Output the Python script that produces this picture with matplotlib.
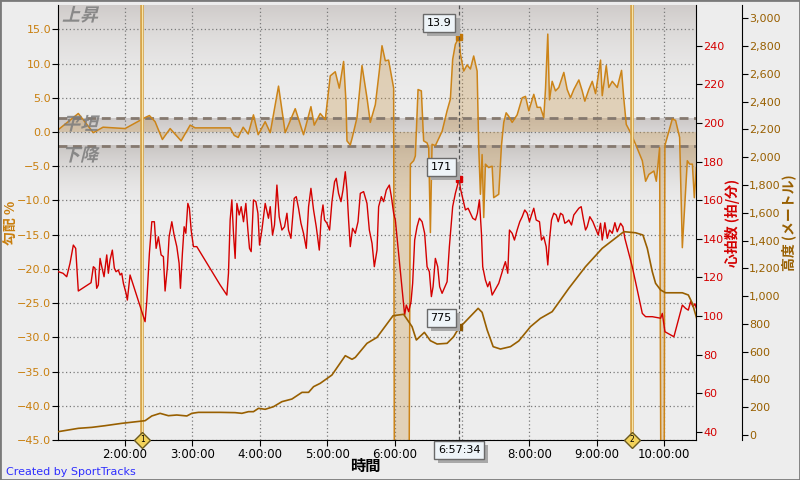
import matplotlib
matplotlib.use("Agg")
import matplotlib.pyplot as plt
import matplotlib.ticker as mticker
import matplotlib.transforms as mtransforms
import matplotlib.patheffects as pe
from matplotlib.colors import to_rgb
from matplotlib.textpath import TextPath
from matplotlib.patches import PathPatch, Rectangle
from matplotlib.font_manager import FontProperties
import numpy as np

plt.rcParams['font.family'] = ['DejaVu Sans', 'Noto Sans CJK JP']
JP = ['Noto Sans CJK JP', 'DejaVu Sans']

# ── Data (time in hours) ────────────────────────────────────────────────────────
grade_t = [1.004, 1.306, 1.529, 1.673, 2.000, 2.297, 2.361, 2.446, 2.554, 2.669,
           2.832, 2.966, 3.040, 3.560, 3.620, 3.679, 3.753, 3.828, 3.906, 3.976,
           4.080, 4.155, 4.278, 4.377, 4.526, 4.649, 4.759, 4.808, 4.897, 4.972,
           5.046, 5.120, 5.180, 5.244, 5.279, 5.294, 5.343, 5.373, 5.443, 5.517,
           5.591, 5.640, 5.715, 5.774, 5.814, 5.863, 5.912, 5.987, 5.999, 6.212,
           6.235, 6.284, 6.309, 6.349, 6.398, 6.432, 6.483, 6.507, 6.532, 6.557,
           6.606, 6.706, 6.780, 6.829, 6.863, 6.903, 6.959, 6.978, 7.027, 7.077,
           7.126, 7.175, 7.226, 7.250, 7.275, 7.300, 7.324, 7.349, 7.398, 7.449,
           7.472, 7.547, 7.587, 7.621, 7.657, 7.695, 7.746, 7.820, 7.895, 7.944,
           7.993, 8.067, 8.117, 8.166, 8.215, 8.241, 8.275, 8.300, 8.340, 8.389,
           8.438, 8.513, 8.563, 8.612, 8.661, 8.736, 8.786, 8.825, 8.884, 8.935,
           8.984, 9.058, 9.083, 9.143, 9.181, 9.232, 9.306, 9.370, 9.404, 9.440,
           9.504, 9.578, 9.678, 9.727, 9.776, 9.850, 9.886, 9.935, 9.957, 10.001,
           10.013, 10.073, 10.123, 10.172, 10.232, 10.272, 10.346, 10.380, 10.421, 10.450,
           10.480]
grade_v = [0.3, 2.7, -0.1, 0.7, 0.5, 2.1, 2.4, 1.5, -1.1, 0.5,
           -1.3, 1.0, 0.6, 0.6, -0.5, -0.8, 0.7, -0.3, 2.5, -0.4,
           1.5, -0.1, 6.7, -0.1, 3.4, -0.4, 3.7, 1.0, 2.7, 1.8,
           8.2, 8.8, 6.4, 10.3, 4.5, -1.3, -1.9, -0.8, 2.1, 9.7,
           5.0, 1.4, 4.0, 8.9, 12.6, 10.4, 10.5, 6.4, -60, -60,
           -4.7, -4.2, -3.5, 6.2, 6.0, -1.3, -1.6, -2.3, -14.7, -1.8,
           -2.0, 0.1, 3.1, 4.8, 10.6, 12.8, 13.9, 11.4, 8.9, 9.8,
           9.2, 11.1, 8.9, -2.3, -9.1, -3.3, -12.5, -4.7, -5.2, -5.0,
           -9.6, -9.1, -2.0, 1.4, 2.8, 2.3, 1.4, 2.5, 5.0, 5.2,
           3.1, 5.5, 3.6, 3.6, 2.1, 6.3, 14.3, 4.7, 7.4, 6.0,
           6.5, 8.7, 6.2, 5.0, 6.2, 7.6, 6.0, 4.5, 6.2, 7.4,
           5.6, 10.5, 5.3, 9.7, 6.5, 7.4, 6.5, 9.0, 4.8, 1.1,
           -0.1, -1.8, -4.2, -7.2, -6.2, -5.7, -7.2, -2.3, -60, -60,
           -2.0, 0.1, 1.9, 1.7, -0.8, -16.9, -4.2, -4.7, -4.7, -9.6,
           -5.2]

hr_t = [1.009, 1.079, 1.134, 1.183, 1.232, 1.267, 1.306, 1.495, 1.529, 1.554,
        1.579, 1.603, 1.629, 1.654, 1.688, 1.728, 1.752, 1.777, 1.811, 1.841,
        1.866, 1.900, 1.926, 1.951, 1.975, 2.015, 2.034, 2.074, 2.297, 2.322,
        2.361, 2.397, 2.435, 2.461, 2.495, 2.535, 2.569, 2.594, 2.629, 2.654,
        2.694, 2.728, 2.768, 2.802, 2.822, 2.851, 2.877, 2.902, 2.932, 2.955,
        2.981, 3.015, 3.065, 3.412, 3.511, 3.535, 3.560, 3.585, 3.609, 3.634,
        3.660, 3.694, 3.724, 3.758, 3.793, 3.823, 3.847, 3.872, 3.906, 3.942,
        3.972, 3.996, 4.031, 4.080, 4.129, 4.155, 4.189, 4.218, 4.254, 4.288,
        4.328, 4.367, 4.403, 4.426, 4.462, 4.511, 4.541, 4.575, 4.611, 4.649,
        4.690, 4.724, 4.759, 4.798, 4.838, 4.883, 4.912, 4.938, 4.961, 4.997,
        5.036, 5.071, 5.110, 5.135, 5.169, 5.205, 5.235, 5.269, 5.294, 5.318,
        5.343, 5.377, 5.418, 5.458, 5.492, 5.541, 5.591, 5.626, 5.666, 5.700,
        5.740, 5.764, 5.804, 5.838, 5.878, 5.923, 5.953, 5.987, 6.012, 6.150,
        6.175, 6.210, 6.245, 6.269, 6.299, 6.334, 6.369, 6.409, 6.447, 6.483,
        6.517, 6.547, 6.572, 6.606, 6.641, 6.670, 6.706, 6.780, 6.814, 6.863,
        6.903, 6.959, 6.978, 7.012, 7.052, 7.092, 7.126, 7.161, 7.201, 7.230,
        7.260, 7.290, 7.309, 7.349, 7.383, 7.413, 7.449, 7.547, 7.621, 7.646,
        7.681, 7.706, 7.746, 7.780, 7.820, 7.859, 7.895, 7.933, 7.969, 8.003,
        8.033, 8.067, 8.103, 8.152, 8.181, 8.215, 8.251, 8.275, 8.300, 8.330,
        8.364, 8.400, 8.430, 8.464, 8.498, 8.528, 8.563, 8.587, 8.627, 8.661,
        8.697, 8.736, 8.771, 8.801, 8.835, 8.860, 8.899, 8.944, 8.984, 9.024,
        9.058, 9.083, 9.122, 9.158, 9.192, 9.232, 9.271, 9.306, 9.355, 9.390,
        9.419, 9.529, 9.678, 9.727, 9.826, 9.950, 9.975, 10.014, 10.147, 10.272,
        10.321, 10.361, 10.395, 10.430, 10.459, 10.489]
hr_v = [122.9, 122.1, 120.3, 127.3, 136.7, 135.0, 112.9, 117.2, 125.5, 124.7,
        114.3, 116.0, 129.8, 125.5, 120.3, 131.6, 122.1, 129.0, 134.1, 124.7,
        122.9, 123.8, 121.2, 122.1, 116.9, 111.7, 108.2, 121.2, 97.0, 107.4,
        132.4, 148.8, 148.8, 135.0, 141.0, 131.6, 130.7, 112.9, 125.5, 141.0,
        148.8, 141.9, 135.9, 127.3, 114.3, 132.4, 146.2, 142.8, 158.3, 155.8,
        144.5, 135.9, 135.9, 116.0, 110.8, 122.1, 149.7, 160.1, 142.8, 129.8,
        158.3, 152.3, 156.6, 148.8, 158.3, 144.5, 135.0, 133.3, 160.1, 159.2,
        153.2, 136.7, 144.5, 158.3, 150.6, 156.6, 141.9, 147.1, 167.8, 151.4,
        144.5, 146.2, 153.2, 144.5, 140.2, 160.9, 161.8, 155.8, 148.0, 142.8,
        135.0, 156.6, 166.1, 154.9, 146.2, 134.1, 151.4, 157.5, 149.7, 148.0,
        144.5, 159.2, 169.5, 171.3, 163.5, 159.2, 165.2, 174.7, 165.2, 149.7,
        135.9, 145.4, 142.8, 148.8, 163.5, 164.4, 158.3, 144.5, 137.6, 125.5,
        134.1, 156.6, 161.8, 159.2, 165.2, 167.8, 161.8, 153.2, 149.7, 100.5,
        105.6, 102.2, 107.4, 116.9, 139.3, 146.2, 150.6, 148.8, 142.8, 125.5,
        122.9, 110.0, 115.1, 129.8, 125.5, 115.1, 111.7, 117.7, 135.9, 156.6,
        163.5, 171.0, 166.1, 160.9, 154.9, 155.8, 153.2, 150.6, 149.7, 153.2,
        160.1, 142.8, 125.5, 118.6, 115.1, 117.7, 110.8, 116.9, 125.5, 128.1,
        122.1, 144.5, 142.8, 139.3, 144.5, 148.8, 151.4, 154.9, 153.2, 148.8,
        152.3, 155.8, 149.7, 148.8, 139.3, 141.0, 135.9, 126.4, 139.3, 149.7,
        153.2, 152.3, 148.8, 153.2, 152.3, 148.0, 148.8, 149.7, 147.1, 152.3,
        154.0, 155.8, 156.6, 150.6, 144.5, 146.2, 151.4, 148.8, 145.4, 141.9,
        148.0, 139.3, 148.3, 140.2, 144.5, 142.8, 148.3, 143.6, 148.0, 146.2,
        140.2, 125.5, 101.3, 99.6, 99.6, 98.8, 101.3, 91.8, 89.2, 105.6,
        103.9, 103.0, 107.4, 104.8, 106.3, 103.0]

alt_t = [1.009, 1.157, 1.306, 1.505, 1.703, 1.951, 2.297, 2.397, 2.520, 2.643,
         2.768, 2.917, 2.991, 3.089, 3.412, 3.634, 3.734, 3.832, 3.906, 3.981,
         4.080, 4.204, 4.328, 4.477, 4.626, 4.724, 4.798, 4.897, 5.071, 5.269,
         5.369, 5.418, 5.591, 5.740, 5.978, 6.135, 6.260, 6.324, 6.443, 6.532,
         6.632, 6.780, 6.878, 6.959, 7.027, 7.241, 7.300, 7.375, 7.464, 7.572,
         7.721, 7.844, 8.018, 8.166, 8.340, 8.587, 8.835, 9.083, 9.404, 9.578,
         9.687, 9.752, 9.826, 9.875, 9.950, 10.024, 10.272, 10.361, 10.421, 10.485]
alt_v = [24, 36, 48, 55, 67, 84, 103, 137, 156, 139,
         144, 137, 156, 163, 163, 161, 156, 168, 168, 192,
         185, 204, 240, 259, 307, 307, 348, 372, 432, 571,
         545, 559, 660, 703, 859, 869, 780, 684, 739, 679,
         655, 660, 708, 775, 804, 912, 883, 756, 636, 619,
         636, 677, 780, 840, 888, 1056, 1212, 1344, 1464, 1456,
         1440, 1344, 1176, 1092, 1044, 1024, 1024, 1008, 948, 840]

lap_t = [2.257, 9.529]
lap_names = ["1", "2"]

cursor_t = 6 + 57 / 60 + 34 / 3600
cursor_label = "6:57:34"
cursor_grade = 13.9
cursor_hr = 171
cursor_alt = 775

band_labels = ["上昇", "平坦", "下降"]

# ── Colours ───────────────────────────────────────────────────────────────────
C_GRADE = "#CC8418"
C_GRADE_TXT = "#C97F0E"
C_HR = "#D40000"
C_ALT = "#985F00"
BG = "#EDEDED"

# ── Figure / axes ─────────────────────────────────────────────────────────────
fig = plt.figure(figsize=(8, 4.8), dpi=100)
fig.patch.set_facecolor(BG)
ax = fig.add_axes([58 / 800, 40 / 480, 638 / 800, 435 / 480])
ax.set_facecolor(BG)
ax_hr = ax.twinx()
ax_alt = ax.twinx()

T0, T1 = 1.0045, 10.475
ax.set_xlim(T0, T1)
ax.set_ylim(-45, 18.55)
ax_hr.set_ylim(35.7, 261.1)
ax_alt.set_ylim(-36, 3096)


def band(y0, y1, c_top, c_bot, power=1.0):
    f = np.linspace(0, 1, 128)[:, None] ** power
    top, bot = np.array(to_rgb(c_top)), np.array(to_rgb(c_bot))
    img = bot + (top - bot) * f
    ax.imshow(img[:, None, :], extent=(T0, T1, y0, y1), origin="lower",
              aspect="auto", interpolation="bilinear", zorder=0)


band(2, 18.55, "#CFCBC9", "#EDEDED", 2.2)
band(-2, 2, "#CCC8C7", "#E6E5E5", 1.0)
band(-12, -2, "#C9C5C3", "#EDEDED", 1.8)
ax.set_xlim(T0, T1)
ax.set_ylim(-45, 18.55)

# grid
ax.set_xticks(range(2, 11))
ax.set_yticks(range(-45, 16, 5))
ax.grid(True, color="#7A7A7A", ls=(0, (1, 2)), lw=0.9)
ax.set_axisbelow(True)

# grade fill + line
ax.fill_between(grade_t, grade_v, 0, color="#C8964B", alpha=0.32, lw=0, zorder=1)
ax.plot(grade_t, grade_v, color=C_GRADE, lw=1.1, zorder=2)

for lvl in (2, -2):
    ax.axhline(lvl, color="#85796F", lw=2, ls=(0, (3.2, 2)), zorder=1.5)

# lap lines
for t in lap_t:
    ax.axvline(t, color="#D6A245", lw=2.6, zorder=3)
    ax.axvline(t, color="#F7E4A6", lw=0.8, zorder=3.1)

# heart rate / altitude
ax_hr.plot(hr_t, hr_v, color=C_HR, lw=1.0, zorder=2)
ax_alt.plot(alt_t, alt_v, color=C_ALT, lw=1.2, zorder=2)

# ── Axes styling ──────────────────────────────────────────────────────────────
for a in (ax_hr, ax_alt):
    for s in ("top", "left", "bottom"):
        a.spines[s].set_visible(False)
    a.patch.set_visible(False)
ax.spines["top"].set_visible(False)
ax.spines["right"].set_visible(False)
ax_alt.spines["right"].set_position(("axes", 1 + 46 / 638))

ax.xaxis.set_major_formatter(mticker.FuncFormatter(
    lambda v, p: "" if int(round(v)) == 7 else f"{int(round(v))}:00:00"))
ax.yaxis.set_major_formatter(mticker.FuncFormatter(
    lambda v, p: f"{v:.1f}".replace("-", "\u2212")))
ax.tick_params(axis="x", length=4, labelsize=8.5, pad=2, colors="black")
ax.tick_params(axis="y", length=4, labelsize=8, pad=1, labelcolor=C_GRADE_TXT)

ax_hr.set_yticks(range(40, 241, 20))
ax_hr.tick_params(axis="y", length=4, labelsize=8, pad=1, labelcolor=C_HR)
ax_alt.set_yticks(range(0, 3001, 200))
ax_alt.yaxis.set_major_formatter(mticker.FuncFormatter(lambda v, p: f"{int(v):,}"))
ax_alt.tick_params(axis="y", length=4, labelsize=8, pad=1, labelcolor=C_ALT)

ax.set_ylabel("勾配 %", family=JP, color=C_GRADE_TXT, fontsize=10, fontweight="bold")
ax.yaxis.set_label_coords(-0.0615, 0.5)
ax_hr.set_ylabel("心拍数 (拍/分)", family=JP, color=C_HR, fontsize=10, fontweight="bold")
ax_hr.yaxis.set_label_coords(1.045, 0.5)
ax_alt.set_ylabel("高度 (メートル)", family=JP, color=C_ALT, fontsize=10, fontweight="bold")
ax_alt.yaxis.set_label_coords(1.134, 0.5)
ax.set_xlabel("時間", family=JP, fontsize=11, fontweight="bold")
ax.xaxis.set_label_coords(0.481, -0.041)

# ── Slanted band labels (上昇 / 平坦 / 下降) ──────────────────────────────────
fp = FontProperties(family="Noto Sans CJK JP", weight="bold")
for label, (px, py) in zip(band_labels, [(62, 459), (62, 350), (62, 319)]):
    tp = TextPath((0, 0), label, size=18, prop=fp)
    tr = mtransforms.Affine2D().skew_deg(14, 0).translate(px, py)
    fig.add_artist(PathPatch(tp, transform=tr, fc="#7C7C7C", ec="none", alpha=0.85))

# ── Cursor read-outs ──────────────────────────────────────────────────────────
ax_alt.axvline(cursor_t, color="#555555", lw=0.9, ls=(0, (3, 2)), zorder=4)
ax.plot(cursor_t, cursor_grade, "s", color="#C27606", ms=5, zorder=5)
ax_hr.plot(cursor_t, cursor_hr, "s", color="#DD0000", ms=5, zorder=5)
ax_alt.plot(cursor_t, cursor_alt, "s", color="#8B5500", ms=5, zorder=5)


def value_box(xy, coords, text, dx, dy):
    ann = ax_alt.annotate(text, xy=xy, xycoords=coords,
                          xytext=(dx, dy), textcoords="offset pixels",
                          ha="center", va="center", fontsize=8, color="black",
                          bbox=dict(boxstyle="square,pad=0.35", fc="#EEF4F8",
                                    ec="#6A6A6A", lw=1),
                          zorder=20, annotation_clip=False)
    ann.get_bbox_patch().set_path_effects(
        [pe.SimplePatchShadow(offset=(3, -3), shadow_rgbFace="#A9A9A9", alpha=1.0),
         pe.Normal()])


value_box((cursor_t, cursor_grade), ax.transData, f"{cursor_grade:.1f}", -20, 14)
value_box((cursor_t, cursor_hr), ax_hr.transData, f"{cursor_hr}", -18, 12)
value_box((cursor_t, cursor_alt), ax_alt.transData, f"{cursor_alt}", -18, 9.5)
value_box((cursor_t, 0), ax.get_xaxis_transform(), cursor_label, 0, -10)

# lap markers on the time axis
for t, name in zip(lap_t, lap_names):
    ax_alt.plot(t, 0, marker="D", ms=8, mfc="#F2D25A", mec="#6B5A20", mew=1,
                transform=ax.get_xaxis_transform(), clip_on=False, zorder=10)
    ax_alt.text(t, 0, name, transform=ax.get_xaxis_transform(), fontsize=5.5,
                ha="center", va="center", zorder=11, clip_on=False)

fig.text(6 / 800, 1 - 472 / 480, "Created by SportTracks", color="#2F2FFF",
         fontsize=8, va="center")
fig.add_artist(Rectangle((0, 0), 1, 1, transform=fig.transFigure, fill=False,
                         ec="#7A7A7A", lw=2))

fig.savefig("out.png", dpi=100, facecolor=fig.get_facecolor())
plt.close()
